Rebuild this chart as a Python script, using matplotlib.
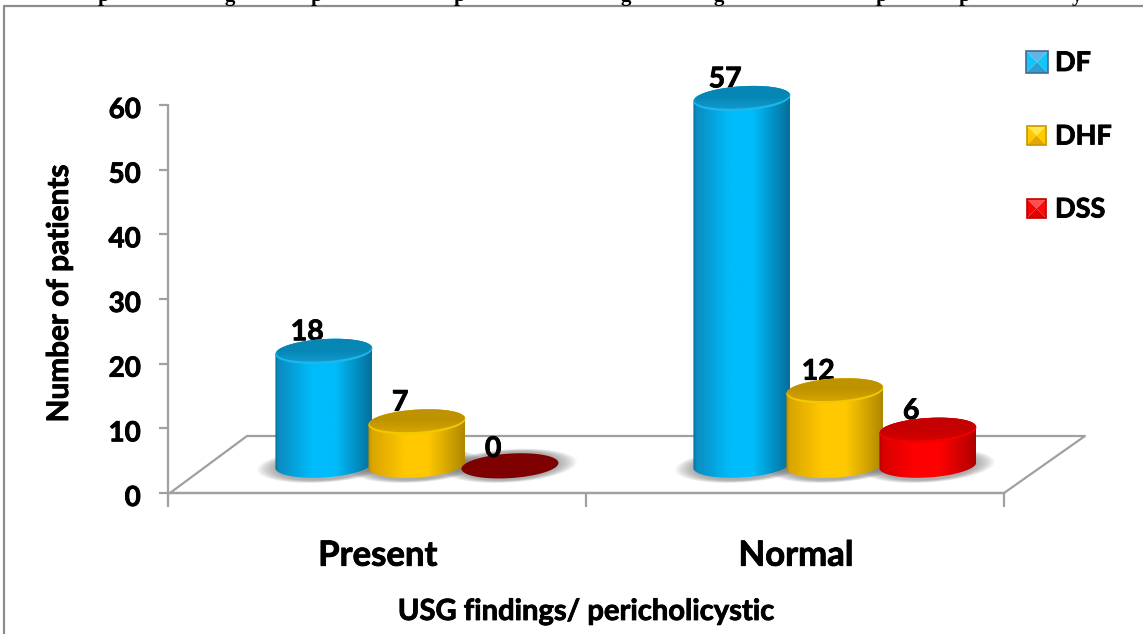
import numpy as np
import matplotlib
matplotlib.use("Agg")
import matplotlib.pyplot as plt
from matplotlib.colors import LinearSegmentedColormap
from matplotlib.patches import Polygon, Rectangle
from matplotlib.patheffects import withStroke
from matplotlib.text import Text
from matplotlib.transforms import ScaledTranslation

plt.rcParams['font.family'] = ['Lato', 'DejaVu Sans']
plt.rcParams['font.weight'] = 'bold'

categories = ["Present", "Normal"]
series_names = ["DF", "DHF", "DSS"]
df_values = [18, 57]
dhf_values = [7, 12]
dss_values = [0, 6]
bar_heights = [[17.6, 56.7], [6.7, 11.5], [0, 5.4]]
labels = [df_values, dhf_values, dss_values]
yticks = [0, 10, 20, 30, 40, 50, 60]
# only the descenders of the cropped caption are left on the page
caption_bits = ["p", "g", "p", "p", "g", "g", "p", "p", "y"]
caption_x = [104, 230, 317, 460, 626, 719, 882, 965, 1077]

side_colors = [("#0a8cc0", "#00bcfb", "#056f9a"), ("#d9a400", "#ffc800", "#b08800"), ("#d80000", "#ff0000", "#b00000")]
top_colors = [("#0686b5", "#119ed2"), ("#bf9200", "#d8a800"), ("#c40000", "#dc0000")]
rim_colors = ["#1cb8ec", "#f4c800", "#f00000"]
zero_color = "#7f0000"
gray = "#a0a0a0"

W, H = 1143, 634
fig = plt.figure(figsize=(W / 100, H / 100), dpi=100)

# overlay in pixels for the frame, floor and legend keys
bg = fig.add_axes([0, 0, 1, 1], zorder=0)
bg.set_xlim(0, W)
bg.set_ylim(H, 0)
bg.axis("off")
bg.plot([4, 4, W], [H, 6, 6], color="#8c8c8c", lw=1.6)
bg.plot([170, 247, 1085, 1004, 170], [493, 436, 436, 493, 493], color=gray, lw=1.6)
for s, x in zip(caption_bits, caption_x):
    bg.text(x, 0.5, s, ha="center", va="baseline", fontsize=15, family="Liberation Serif",
            fontweight="bold", color="black")

ax = fig.add_axes([168 / W, 1 - 493 / H, (1004 - 168) / W, (493 - 105) / H], zorder=1)
ax.patch.set_alpha(0)
ax.spines["top"].set_visible(False)
ax.spines["right"].set_visible(False)
for s in ["left", "bottom"]:
    ax.spines[s].set_color(gray)
    ax.spines[s].set_linewidth(1.6)
ax.set_yticks(yticks)
ax.set_xticks([-0.5, 0.5, 1.5])
ax.set_xticklabels([])
ax.tick_params(axis="y", length=6.5, width=1.6, color=gray, labelsize=20, pad=13)
ax.tick_params(axis="x", length=10, width=1.6, color=gray)
for lab in ax.get_yticklabels():
    lab.set_fontweight("bold")
    lab.set_transform(lab.get_transform() + ScaledTranslation(0, -2.5 / 100, fig.dpi_scale_trans))
    lab.set_path_effects([withStroke(linewidth=0.6, foreground="black")])
for i, c in enumerate(categories):
    ax.text(i + 0.002, -9.7, c, ha="center", va="center", fontsize=25)
ax.set_ylabel("Number of patients", fontsize=21.4, fontweight="bold", va="center")
ax.yaxis.set_label_coords((59 - 168) / 836, (493 - 293.5) / 388)
fig.text(586 / W, 1 - 612 / H, "USG findings/ pericholicystic", ha="center", va="center", fontsize=21)

base = 4.3      # floor depth of the bar centres
half_w = 0.116
ry = 1.9
tilt = 0.45
step = 0.2225
shift = 0.0955
t = np.linspace(0, 2 * np.pi, 120)


def ring(cx, cy, a=half_w, b=ry, k=tilt):
    return np.column_stack([cx + a * np.cos(t), cy + b * np.sin(t) + k * np.cos(t) * a / half_w])


def body(cx, h):
    lower = np.linspace(np.pi, 2 * np.pi, 60)
    upper = np.linspace(0, np.pi, 60)
    bx = cx + half_w * np.cos(lower)
    by = base + ry * np.sin(lower) + tilt * np.cos(lower)
    tx = cx + half_w * np.cos(upper)
    ty = base + h + ry * np.sin(upper) + tilt * np.cos(upper)
    return np.column_stack([np.r_[bx, tx], np.r_[by, ty]])


# shadows first so that they stay behind every cylinder
for i in range(len(categories)):
    for j in range(len(series_names)):
        cx = i + shift + (j - 1) * step
        for grow in np.linspace(1.38, 1.0, 16):
            ax.add_patch(Polygon(ring(cx, base - 0.1, half_w * grow, ry * (0.6 + 0.55 * grow)), color="#606060",
                                 alpha=0.04, lw=0, zorder=2, clip_on=False))

for i in range(len(categories)):
    for j in range(len(series_names)):
        cx = i + shift + (j - 1) * step
        h = bar_heights[j][i]
        z = 3 + j
        if h == 0:
            ax.add_patch(Polygon(ring(cx, base - 0.1), color=zero_color, lw=0, zorder=z, clip_on=False))
        else:
            left, mid, right = side_colors[j]
            cmap = LinearSegmentedColormap.from_list("c", [(0, right), (0.03, left), (0.38, mid), (0.62, mid), (1, right)])
            im = ax.imshow(np.linspace(0, 1, 200).reshape(1, -1), cmap=cmap, aspect="auto",
                           extent=[cx - half_w, cx + half_w, base - 3, base + h + 3], zorder=z)
            im.set_clip_path(Polygon(body(cx, h), transform=ax.transData))
            im.set_clip_box(fig.bbox)
            ax.add_patch(Polygon(ring(cx, base + h), color=rim_colors[j], lw=0, zorder=z, clip_on=False))
            # top face, darker towards the back
            dark, light = top_colors[j]
            tmap = LinearSegmentedColormap.from_list("t", [dark, dark, light])
            face = ax.imshow(np.linspace(0, 1, 60).reshape(-1, 1), cmap=tmap, aspect="auto", origin="upper",
                             extent=[cx - half_w, cx + half_w, base + h - ry, base + h + ry + tilt], zorder=z)
            face.set_clip_path(Polygon(ring(cx, base + h + 0.18, half_w * 0.985, ry * 0.9), transform=ax.transData))
            face.set_clip_box(fig.bbox)
        top = base + h + ry - 0.95
        if h == 0:
            top -= 0.45
        ax.text(cx - 0.04, top, str(labels[j][i]), ha="center", va="bottom", fontsize=20.5,
                zorder=2.5 if h else 6, color="black")
ax.set_xlim(-0.5, 1.5)
ax.set_ylim(0, 60)

# legend keys with bevelled faces
key_boxes = [(1026, 51, 22), (1027, 126, 19), (1027, 199, 19)]
key_faces = [
    ("#63b4e6", "#12c6fb", "#12c6fb", "#2a9fd6", "#46698f"),
    ("#ffe64d", "#ffc800", "#ffcc00", "#e0a800", "#c89600"),
    ("#ff5050", "#ff0000", "#ff0808", "#e00000", "#c00000"),
]
for (x0, y0, s), (top_c, left_c, right_c, bot_c, border), name in zip(key_boxes, key_faces, series_names):
    xm, ym = x0 + s / 2, y0 + s / 2
    bg.add_patch(Polygon([(x0, y0), (x0 + s, y0), (xm, ym)], color=top_c, lw=0))
    bg.add_patch(Polygon([(x0, y0), (xm, ym), (x0, y0 + s)], color=left_c, lw=0))
    bg.add_patch(Polygon([(x0 + s, y0), (xm, ym), (x0 + s, y0 + s)], color=right_c, lw=0))
    bg.add_patch(Polygon([(x0, y0 + s), (xm, ym), (x0 + s, y0 + s)], color=bot_c, lw=0))
    bg.add_patch(Rectangle((x0, y0), s, s, fill=False, ec=border, lw=1.2))
    bg.text(1055, ym + 1, name, ha="left", va="center", fontsize=19.5)

# Lato Bold is a little lighter than the reference face
for txt in fig.findobj(Text):
    if txt.get_text() and txt.get_text() not in caption_bits:
        txt.set_path_effects([withStroke(linewidth=0.6, foreground="black")])

fig.savefig("out.png", dpi=100)
